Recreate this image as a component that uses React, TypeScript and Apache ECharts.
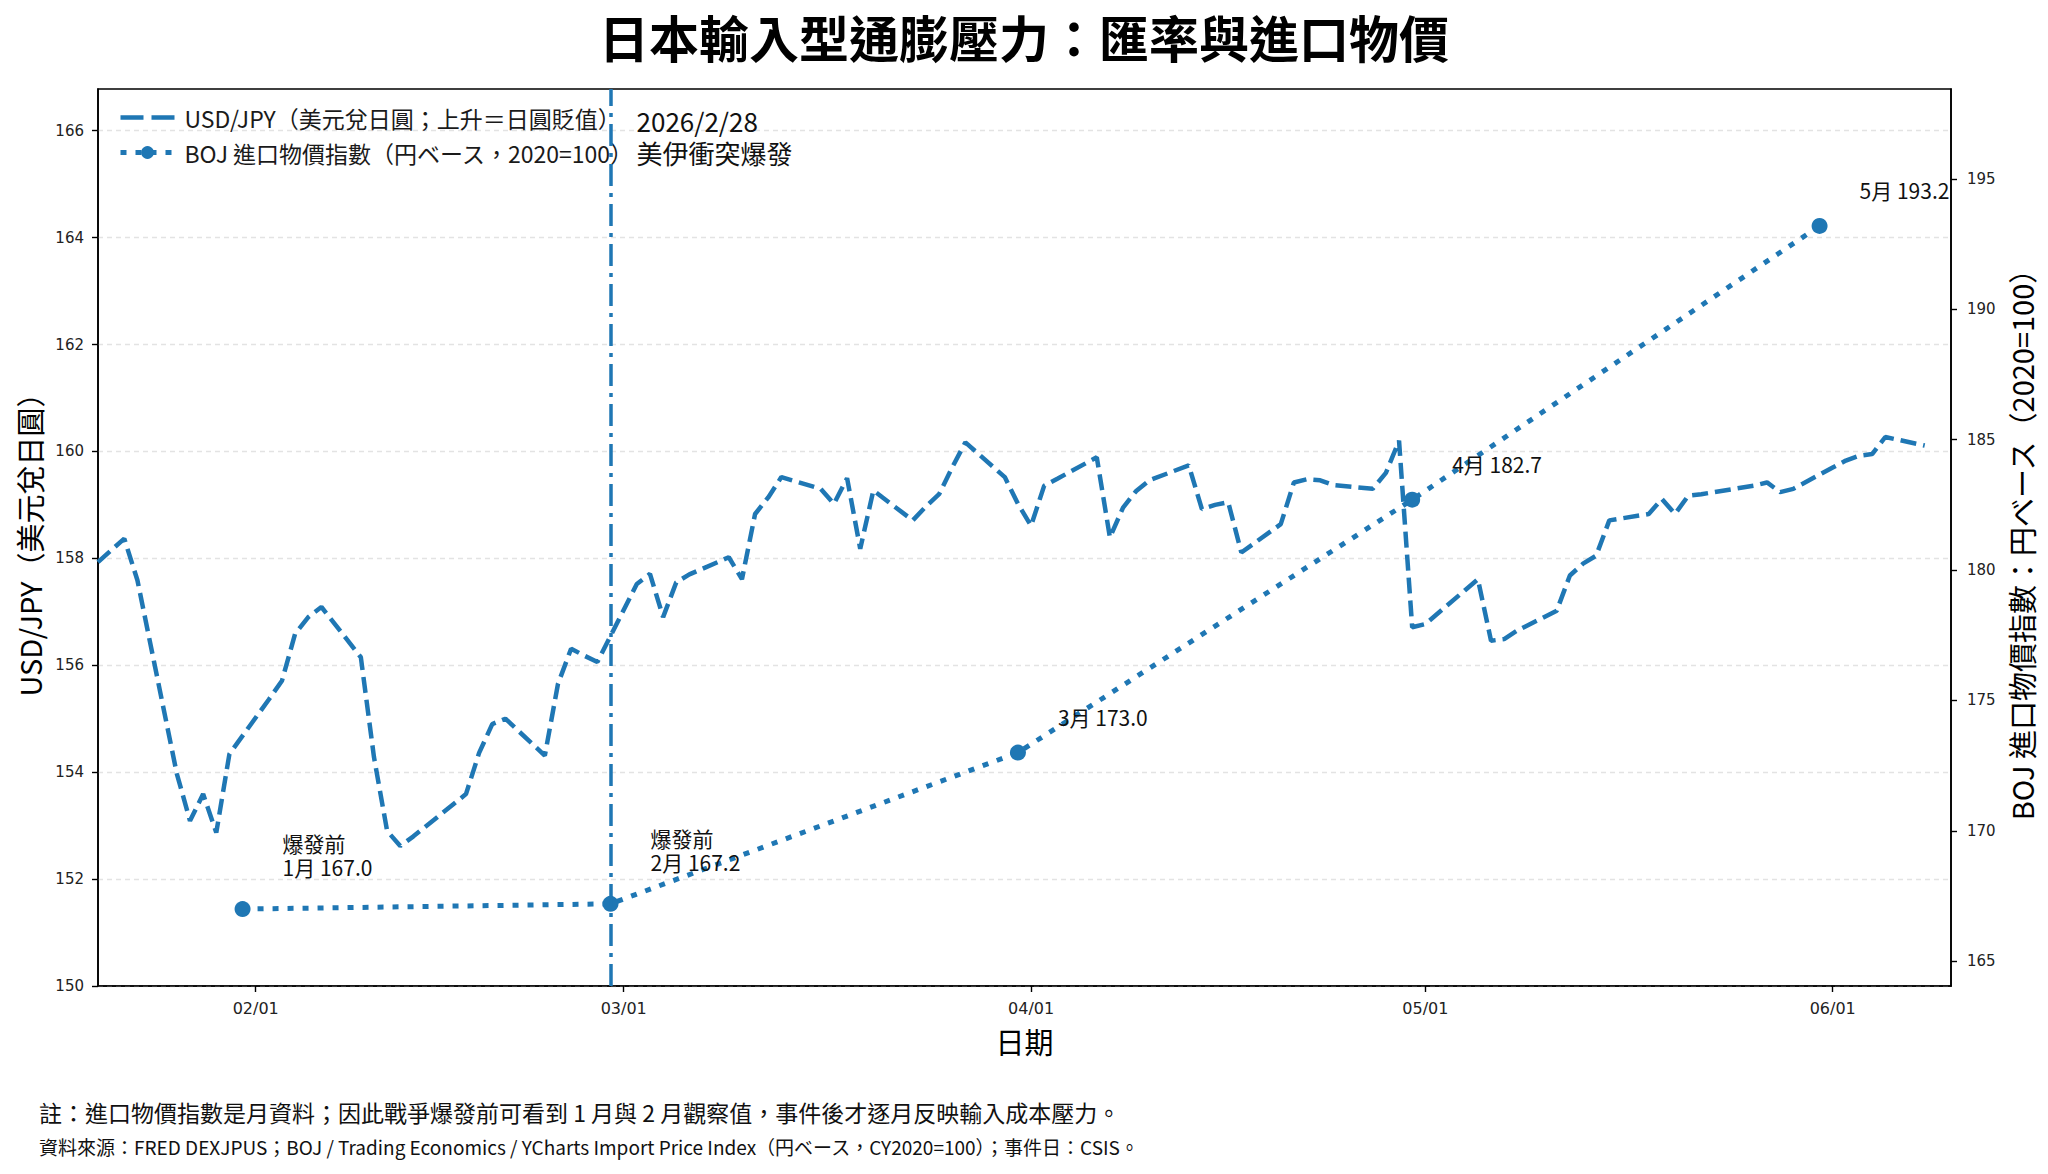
import React, { useEffect, useRef } from 'react';
import * as echarts from 'echarts';

// ---------- data ----------
const usdDates = [
  '2026-01-20', '2026-01-21', '2026-01-22', '2026-01-23', '2026-01-26', '2026-01-27', '2026-01-28', '2026-01-29', '2026-01-30',
  '2026-02-02', '2026-02-03', '2026-02-04', '2026-02-05', '2026-02-06', '2026-02-09', '2026-02-10', '2026-02-11', '2026-02-12',
  '2026-02-13', '2026-02-17', '2026-02-18', '2026-02-19', '2026-02-20', '2026-02-23', '2026-02-24', '2026-02-25', '2026-02-26',
  '2026-02-27',
  '2026-03-02', '2026-03-03', '2026-03-04', '2026-03-05', '2026-03-06', '2026-03-09', '2026-03-10', '2026-03-11', '2026-03-12',
  '2026-03-13', '2026-03-16', '2026-03-17', '2026-03-18', '2026-03-19', '2026-03-20', '2026-03-23', '2026-03-24', '2026-03-25',
  '2026-03-26', '2026-03-27', '2026-03-30', '2026-03-31',
  '2026-04-01', '2026-04-02', '2026-04-03', '2026-04-06', '2026-04-07', '2026-04-08', '2026-04-09', '2026-04-10', '2026-04-13',
  '2026-04-14', '2026-04-15', '2026-04-16', '2026-04-17', '2026-04-20', '2026-04-21', '2026-04-22', '2026-04-23', '2026-04-24',
  '2026-04-27', '2026-04-28', '2026-04-29', '2026-04-30',
  '2026-05-01', '2026-05-04', '2026-05-05', '2026-05-06', '2026-05-07', '2026-05-08', '2026-05-11', '2026-05-12', '2026-05-13',
  '2026-05-14', '2026-05-15', '2026-05-18', '2026-05-19', '2026-05-20', '2026-05-21', '2026-05-22', '2026-05-26', '2026-05-27',
  '2026-05-28', '2026-05-29',
  '2026-06-01', '2026-06-02', '2026-06-03', '2026-06-04', '2026-06-05', '2026-06-08',
];
const usdValues = [
  157.93, 158.15, 158.37, 157.59, 153.97, 153.09, 153.59, 152.87, 154.34,
  155.36, 155.71, 156.59, 156.9, 157.09, 156.15, 154.28, 152.9, 152.62,
  152.8, 153.59, 154.36, 154.9, 155.0, 154.31, 155.65, 156.31, 156.18,
  156.06,
  157.52, 157.71, 156.9, 157.55, 157.7, 158.02, 157.61, 158.83, 159.14,
  159.52, 159.3, 159.02, 159.5, 158.18, 159.27, 158.71, 158.97, 159.2,
  159.7, 160.17, 159.52, 159.02,
  158.61, 159.36, 159.49, 159.89, 158.39, 158.95, 159.26, 159.46, 159.74,
  158.92, 159.0, 159.05, 158.11, 158.64, 159.42, 159.48, 159.46, 159.37,
  159.3, 159.6, 160.2, 156.71,
  156.77, 157.4, 157.61, 156.46, 156.49, 156.65, 157.02, 157.68, 157.9,
  158.05, 158.71, 158.83, 159.11, 158.83, 159.17, 159.2, 159.36, 159.42,
  159.24, 159.3,
  159.7, 159.83, 159.92, 159.95, 160.27, 160.11,
];

const bojDates = ['2026-01-31', '2026-02-28', '2026-03-31', '2026-04-30', '2026-05-31'];
const bojValues = [167.0, 167.2, 173.0, 182.7, 193.2];
const bojLabels = ['爆發前\n1月 167.0', '爆發前\n2月 167.2', '3月 173.0', '4月 182.7', '5月 193.2'];

const eventDate = '2026-02-28';
const eventLabel = '2026/2/28\n美伊衝突爆發';

const xRange = ['2026-01-20', '2026-06-10'];
const xTickDates = ['2026-02-01', '2026-03-01', '2026-04-01', '2026-05-01', '2026-06-01'];
const leftRange = [150, 166.78];
const leftTicks = [150, 152, 154, 156, 158, 160, 162, 164, 166];
const rightRange = [164.05, 198.45];
const rightTicks = [165, 170, 175, 180, 185, 190, 195];

const titleText = '日本輸入型通膨壓力：匯率與進口物價';
const usdName = 'USD/JPY（美元兌日圓；上升＝日圓貶值）';
const bojName = 'BOJ 進口物價指數（円ベース，2020=100）';
const leftAxisName = 'USD/JPY（美元兌日圓）';
const rightAxisName = 'BOJ 進口物價指數：円ベース（2020=100）';
const xAxisName = '日期';
const noteText = '註：進口物價指數是月資料；因此戰爭爆發前可看到 1 月與 2 月觀察值，事件後才逐月反映輸入成本壓力。';
const sourceText = '資料來源：FRED DEXJPUS；BOJ / Trading Economics / YCharts Import Price Index（円ベース，CY2020=100）；事件日：CSIS。';

// ---------- helpers / styles ----------
const toTs = (s: string) => {
  const [y, m, d] = s.split('-').map(Number);
  return new Date(y, m - 1, d).getTime();
};
const fmtMD = (v: number) => {
  const d = new Date(v);
  return String(d.getMonth() + 1).padStart(2, '0') + '/' + String(d.getDate()).padStart(2, '0');
};

const CJK = '"Noto Sans CJK TC", "Noto Sans CJK JP", sans-serif';
const LATIN = '"DejaVu Sans", sans-serif';
const BLUE = '#1f77b4';
const AXIS_LINE = { show: true, onZero: false, lineStyle: { color: '#000', width: 1.6 } };
const TICK_STYLE = { color: '#000', width: 1.4 };
const NAME_STYLE = { fontFamily: CJK, fontSize: 29, color: '#000' };

export default function App() {
  const ref = useRef<HTMLDivElement>(null);

  useEffect(() => {
    const chart = echarts.init(ref.current!, null, { renderer: 'svg' });
    const option: any = {
      animation: false,
      backgroundColor: '#ffffff',
      title: {
        text: titleText,
        left: 'center',
        top: 6,
        textStyle: { fontFamily: CJK, fontSize: 50, fontWeight: 'bold', color: '#000' },
      },
      legend: {
        left: 118,
        top: 106,
        orient: 'vertical',
        padding: 0,
        itemGap: 12,
        itemWidth: 54,
        itemHeight: 16,
        textStyle: { fontFamily: CJK, fontSize: 23, color: '#1a1a1a', padding: [0, 0, 0, 5] },
        data: [
          {
            name: usdName,
            itemStyle: { opacity: 0, color: 'rgba(0,0,0,0)', borderWidth: 0 },
            lineStyle: { width: 4.5, type: [23, 8] },
          },
          { name: bojName, lineStyle: { width: 5, type: [6, 9] } },
        ],
      },
      grid: {
        left: 98,
        right: 97,
        top: 89,
        bottom: 188,
        show: true,
        borderColor: '#000',
        borderWidth: 1.6,
        backgroundColor: 'transparent',
        outerBoundsMode: 'none',
      },
      xAxis: {
        type: 'value',
        min: toTs(xRange[0]),
        max: toTs(xRange[1]),
        name: xAxisName,
        nameLocation: 'middle',
        nameGap: 40,
        nameTextStyle: NAME_STYLE,
        axisLine: AXIS_LINE,
        axisTick: { show: true, length: 6, lineStyle: TICK_STYLE, customValues: xTickDates.map(toTs) },
        axisLabel: {
          customValues: xTickDates.map(toTs),
          formatter: (v: number) => fmtMD(v),
          fontFamily: LATIN,
          fontSize: 16,
          color: '#222',
          margin: 14,
        },
        splitLine: { show: false },
      },
      yAxis: [
        {
          type: 'value',
          position: 'left',
          min: leftRange[0],
          max: leftRange[1],
          interval: 2,
          name: leftAxisName,
          nameLocation: 'middle',
          nameRotate: 90,
          nameGap: 55,
          nameTextStyle: NAME_STYLE,
          axisLine: AXIS_LINE,
          axisTick: { show: true, length: 6, lineStyle: TICK_STYLE, customValues: leftTicks },
          axisLabel: { customValues: leftTicks, fontFamily: LATIN, fontSize: 15, color: '#222', margin: 14 },
          splitLine: { show: true, lineStyle: { color: '#e3e3e3', type: [5, 4], width: 1.3 } },
        },
        {
          type: 'value',
          position: 'right',
          min: rightRange[0],
          max: rightRange[1],
          alignTicks: false,
          name: rightAxisName,
          nameLocation: 'middle',
          nameRotate: 90,
          nameGap: 50,
          nameTextStyle: NAME_STYLE,
          axisLine: AXIS_LINE,
          axisTick: { show: true, length: 6, lineStyle: TICK_STYLE, customValues: rightTicks },
          axisLabel: { customValues: rightTicks, fontFamily: LATIN, fontSize: 15, color: '#222', margin: 16 },
          splitLine: { show: false },
        },
      ],
      series: [
        {
          type: 'line',
          name: usdName,
          yAxisIndex: 0,
          data: usdDates.map((d, i) => [toTs(d), usdValues[i]]),
          symbol: 'none',
          showSymbol: false,
          lineStyle: { color: BLUE, width: 4.5, type: [16, 7] },
          itemStyle: { color: BLUE },
          z: 3,
          markLine: {
            silent: true,
            symbol: ['none', 'none'],
            label: { show: false },
            lineStyle: { color: BLUE, width: 3.5, type: [22, 7, 4, 7] },
            data: [{ xAxis: toTs(eventDate) }],
          },
        },
        {
          type: 'line',
          name: bojName,
          yAxisIndex: 1,
          data: bojDates.map((d, i) => ({
            value: [toTs(d), bojValues[i]],
            label: { offset: [32, bojLabels[i].indexOf('\n') >= 0 ? -30 : -24] },
          })),
          symbol: 'circle',
          symbolSize: 16,
          showSymbol: true,
          lineStyle: { color: BLUE, width: 5, type: [6, 9] },
          itemStyle: { color: BLUE },
          z: 4,
          label: {
            show: true,
            position: 'right',
            distance: 0,
            align: 'left',
            verticalAlign: 'bottom',
            fontFamily: CJK,
            fontSize: 21,
            lineHeight: 24,
            color: '#111',
            formatter: (p: any) => bojLabels[p.dataIndex],
          },
        },
      ],
    };
    chart.setOption(option);

    const ex = chart.convertToPixel({ xAxisIndex: 0 }, toTs(eventDate)) as number;
    chart.setOption({
      graphic: [
        {
          type: 'text',
          x: ex + 26,
          y: 136,
          z: 10,
          style: {
            text: eventLabel,
            fontFamily: CJK,
            fontSize: 26,
            lineHeight: 32,
            align: 'left',
            verticalAlign: 'middle',
            fill: '#111',
          },
        },
        {
          type: 'text',
          left: 39,
          top: 1100,
          style: { text: noteText, fontFamily: CJK, fontSize: 23, fill: '#111' },
        },
        {
          type: 'text',
          left: 39,
          top: 1137,
          style: { text: sourceText, fontFamily: CJK, fontSize: 19, fill: '#111' },
        },
      ],
    });

    return () => chart.dispose();
  }, []);

  return (
    <div
      ref={ref}
      style={{ position: 'fixed', left: 0, top: 0, width: 2048, height: 1174, background: '#fff' }}
    />
  );
}
